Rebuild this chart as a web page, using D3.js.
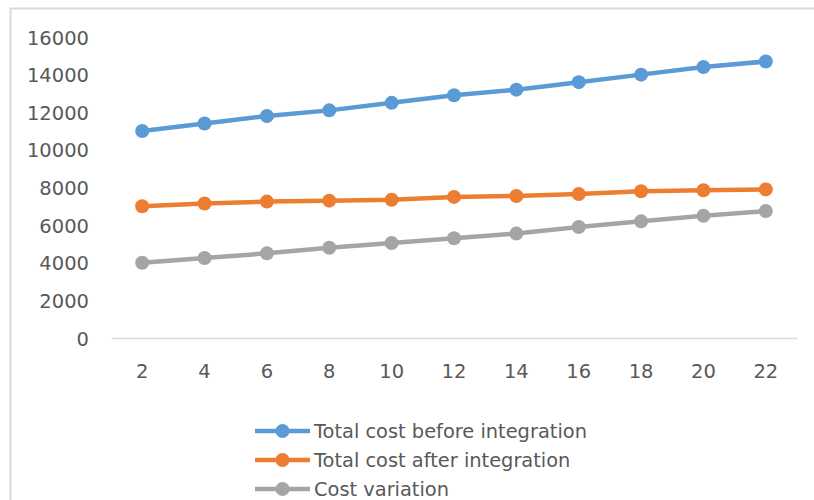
<!DOCTYPE html>
<html>
<head>
<meta charset="utf-8">
<script src="https://cdn.jsdelivr.net/npm/d3@7"></script>
<style>
  html, body { margin: 0; padding: 0; background: #fff; }
  svg { display: block; }
  text { font-family: "DejaVu Sans", "Liberation Sans", sans-serif; fill: #595959; }
</style>
</head>
<body>
<svg id="chart" width="814" height="500"></svg>
<script>
// Categories along the x axis
const categories = ["2", "4", "6", "8", "10", "12", "14", "16", "18", "20", "22"];

// Series values
const totalBefore = [11000, 11400, 11800, 12100, 12500, 12900, 13200, 13600, 14000, 14400, 14700];
const totalAfter  = [7000, 7150, 7250, 7300, 7350, 7500, 7550, 7650, 7800, 7850, 7900];
const costVariation = [4000, 4250, 4500, 4800, 5050, 5300, 5550, 5900, 6200, 6500, 6750];

const seriesNames = ["Total cost before integration", "Total cost after integration", "Cost variation"];
const yTicks = [0, 2000, 4000, 6000, 8000, 10000, 12000, 14000, 16000];

const series = [
  { name: seriesNames[0], values: totalBefore, color: "#5B9BD5" },
  { name: seriesNames[1], values: totalAfter, color: "#ED7D31" },
  { name: seriesNames[2], values: costVariation, color: "#A5A5A5" }
];

const svg = d3.select("#chart");

// Outer chart frame
svg.append("rect")
  .attr("x", 10.5).attr("y", 8.5)
  .attr("width", 840).attr("height", 540)
  .attr("fill", "none")
  .attr("stroke", "#D9D9D9")
  .attr("stroke-width", 2);

const plot = { left: 111, right: 797, top: 37, bottom: 338 };

const x = d3.scaleBand()
  .domain(categories)
  .range([plot.left, plot.right]);

const y = d3.scaleLinear()
  .domain([0, 16000])
  .range([plot.bottom, plot.top]);

// Y axis labels (no axis line)
const yAxis = d3.axisLeft(y).tickValues(yTicks).tickSize(0).tickPadding(0).tickFormat(d3.format("d"));
const gy = svg.append("g").attr("transform", `translate(89,0)`).call(yAxis);
gy.select(".domain").remove();
gy.selectAll("text")
  .style("font-size", "19.5px")
  .attr("fill", "#595959")
  .attr("dy", "0.36em");

// X axis baseline and labels
const xAxis = d3.axisBottom(x).tickSize(0).tickPadding(0);
const gx = svg.append("g").attr("transform", `translate(0,${plot.bottom})`).call(xAxis);
gx.select(".domain").attr("stroke", "#D9D9D9").attr("stroke-width", 1.5);
gx.selectAll("text")
  .style("font-size", "19.5px")
  .attr("fill", "#595959")
  .attr("y", 26)
  .attr("dy", "0.71em");

const cx = d => x(d) + x.bandwidth() / 2;

const line = d3.line()
  .x((d, i) => cx(categories[i]))
  .y(d => y(d));

series.forEach(s => {
  const g = svg.append("g");
  g.append("path")
    .datum(s.values)
    .attr("d", line)
    .attr("fill", "none")
    .attr("stroke", s.color)
    .attr("stroke-width", 4.5)
    .attr("stroke-linejoin", "round")
    .attr("stroke-linecap", "round");
  g.selectAll("circle")
    .data(s.values)
    .join("circle")
    .attr("cx", (d, i) => cx(categories[i]))
    .attr("cy", d => y(d))
    .attr("r", 7)
    .attr("fill", s.color);
});

// Legend
const legend = svg.append("g").attr("transform", "translate(255,431)");
series.forEach((s, i) => {
  const row = legend.append("g").attr("transform", `translate(0,${i * 29})`);
  row.append("line")
    .attr("x1", 0).attr("x2", 55)
    .attr("y1", 0).attr("y2", 0)
    .attr("stroke", s.color)
    .attr("stroke-width", 4.5);
  row.append("circle")
    .attr("cx", 27.5).attr("cy", 0).attr("r", 7)
    .attr("fill", s.color);
  row.append("text")
    .attr("x", 59).attr("y", 0)
    .attr("dy", "0.36em")
    .style("font-size", "19.4px")
    .text(s.name);
});
</script>
</body>
</html>
